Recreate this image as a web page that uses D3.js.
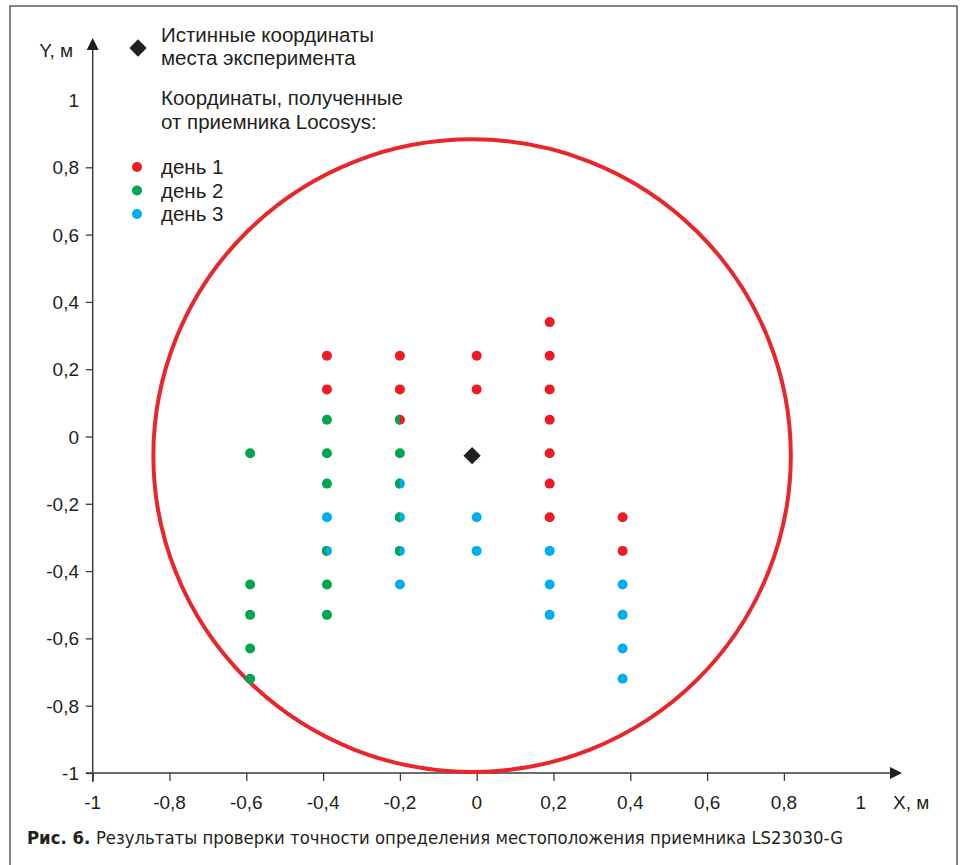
<!DOCTYPE html>
<html>
<head>
<meta charset="utf-8">
<script src="https://cdnjs.cloudflare.com/ajax/libs/d3/7.8.5/d3.min.js"></script>
<style>
  body { margin: 0; background: #fff; }
  svg { display: block; }
  .lbl { font-family: "Liberation Sans", Arial, sans-serif; font-size: 19px; fill: #231f20; }
  .leg { font-family: "Liberation Sans", Arial, sans-serif; font-size: 20.5px; fill: #231f20; }
  .cap { font-family: "Liberation Sans Narrow", "DejaVu Sans Condensed", "Roboto Condensed", sans-serif; font-size: 18px; fill: #231f20; }
</style>
</head>
<body>
<div class="pointsGraph"></div>
<script>
// tick values
var tickVals = [-1, -0.8, -0.6, -0.4, -0.2, 0, 0.2, 0.4, 0.6, 0.8];
var tickLabels = [-1, -0.8, -0.6, -0.4, -0.2, 0, 0.2, 0.4, 0.6, 0.8, 1];

// true position and the error circle (semi-axes in metres on each axis)
var truePoint = [-0.012, -0.057];
var circleRx = 0.83;
var circleRy = 0.94;

// receiver readings, [x, y] in metres
var day1 = [[-0.39, 0.24], [-0.39, 0.14], [-0.2, 0.24], [-0.2, 0.14], [-0.2, 0.05],
            [0, 0.24], [0, 0.14], [0.19, 0.34], [0.19, 0.24], [0.19, 0.14],
            [0.19, 0.05], [0.19, -0.05], [0.19, -0.14], [0.19, -0.24],
            [0.38, -0.24], [0.38, -0.34]];
var day2 = [[-0.59, -0.05], [-0.59, -0.44], [-0.59, -0.53], [-0.59, -0.63], [-0.59, -0.72],
            [-0.39, 0.05], [-0.39, -0.05], [-0.39, -0.14], [-0.39, -0.34], [-0.39, -0.44], [-0.39, -0.53],
            [-0.2, 0.05], [-0.2, -0.05], [-0.2, -0.14], [-0.2, -0.24], [-0.2, -0.34]];
var day3 = [[-0.39, -0.24], [-0.39, -0.34], [-0.2, -0.14], [-0.2, -0.24], [-0.2, -0.34], [-0.2, -0.44],
            [0, -0.24], [0, -0.34], [0.19, -0.34], [0.19, -0.44], [0.19, -0.53],
            [0.38, -0.44], [0.38, -0.53], [0.38, -0.63], [0.38, -0.72]];

var legendDays = ['день 1', 'день 2', 'день 3'];
var dayColors = ['#ed1c24', '#00a651', '#00aeef'];

var width = 960;
var height = 865;

var x = d3.scaleLinear().domain([-1, 1]).range([92.7, 860.7]);
var y = d3.scaleLinear().domain([-1, 1]).range([773, 100]);

var svg = d3.select('.pointsGraph').append('svg')
            .attr('width', width)
            .attr('height', height);

// frame
svg.append('rect').attr('x', 10).attr('y', 6).attr('width', 947).attr('height', 870)
   .attr('fill', 'none').attr('stroke', '#444').attr('stroke-width', 1.3);

var axisColor = '#3d3d3d';

// x axis
var xAxis = d3.axisBottom(x).tickValues(tickVals).tickSize(8).tickFormat('');
var gx = svg.append('g').attr('transform', 'translate(0,' + y(-1) + ')').call(xAxis);
gx.select('.domain').remove();
gx.selectAll('line').attr('stroke', axisColor).attr('stroke-width', 1.3);
svg.append('line').attr('x1', 86).attr('x2', 892).attr('y1', y(-1)).attr('y2', y(-1))
   .attr('stroke', axisColor).attr('stroke-width', 1.5);
svg.append('path')
   .attr('d', 'M' + 902 + ',' + y(-1) + 'L890,' + (y(-1) - 6) + 'L890,' + (y(-1) + 6) + 'Z')
   .attr('fill', '#231f20');

// y axis
var yAxis = d3.axisLeft(y).tickValues(tickVals).tickSize(7).tickFormat('');
var gy = svg.append('g').attr('transform', 'translate(' + x(-1) + ',0)').call(yAxis);
gy.select('.domain').remove();
gy.selectAll('line').attr('stroke', axisColor).attr('stroke-width', 1.3);
svg.append('line').attr('x1', x(-1)).attr('x2', x(-1)).attr('y1', 48).attr('y2', 782)
   .attr('stroke', axisColor).attr('stroke-width', 1.5);
svg.append('path')
   .attr('d', 'M' + x(-1) + ',38L' + (x(-1) - 6) + ',50L' + (x(-1) + 6) + ',50Z')
   .attr('fill', '#231f20');

var fmt = function(v) { return String(v).replace('.', ','); };

svg.selectAll('.xlab').data(tickLabels).enter().append('text')
   .attr('class', 'lbl')
   .attr('x', function(d) { return x(d); })
   .attr('y', 809)
   .attr('text-anchor', 'middle')
   .text(fmt);
svg.selectAll('.ylab').data(tickLabels).enter().append('text')
   .attr('class', 'lbl')
   .attr('x', 79)
   .attr('y', function(d) { return y(d) + 7; })
   .attr('text-anchor', 'end')
   .text(fmt);

svg.append('text').attr('class', 'lbl').attr('x', 73).attr('y', 57).attr('text-anchor', 'end').text('Y, м');
svg.append('text').attr('class', 'lbl').attr('x', 893).attr('y', 809).text('X, м');

// error circle
svg.append('ellipse')
   .attr('cx', x(truePoint[0])).attr('cy', y(truePoint[1]))
   .attr('rx', x(circleRx) - x(0)).attr('ry', y(0) - y(circleRy))
   .attr('fill', 'none').attr('stroke', '#e8262c').attr('stroke-width', 4);

// points
var r = 5;
function drawDots(data, color) {
  svg.append('g').selectAll('circle').data(data).enter().append('circle')
     .attr('cx', function(d) { return x(d[0]); })
     .attr('cy', function(d) { return y(d[1]); })
     .attr('r', r)
     .attr('fill', color);
}
drawDots(day1, dayColors[0]);
drawDots(day3, dayColors[2]);

// day 2: where it shares a spot with another day, only its left half shows
var others = day1.concat(day3);
function shared(d) {
  return others.some(function(o) { return o[0] === d[0] && o[1] === d[1]; });
}
svg.append('g').selectAll('path').data(day2).enter().append('path')
   .attr('d', function(d) {
     var cx = x(d[0]), cy = y(d[1]);
     if (shared(d)) {
       return 'M' + cx + ',' + (cy - r) + 'A' + r + ',' + r + ' 0 0,0 ' + cx + ',' + (cy + r) + 'Z';
     }
     return 'M' + (cx - r) + ',' + cy + 'A' + r + ',' + r + ' 0 1,0 ' + (cx + r) + ',' + cy +
            'A' + r + ',' + r + ' 0 1,0 ' + (cx - r) + ',' + cy + 'Z';
   })
   .attr('fill', dayColors[1]);

// true position
var diamond = d3.symbol().type(d3.symbolDiamond2).size(190);
svg.append('path').attr('d', diamond)
   .attr('transform', 'translate(' + x(truePoint[0]) + ',' + y(truePoint[1]) + ')')
   .attr('fill', '#231f20');

// legend
svg.append('path').attr('d', diamond).attr('transform', 'translate(138,48)').attr('fill', '#231f20');
var legLines = [['Истинные координаты', 42], ['места эксперимента', 65],
                ['Координаты, полученные', 105], ['от приемника Locosys:', 129]];
legLines.forEach(function(l) {
  svg.append('text').attr('class', 'leg').attr('x', 161).attr('y', l[1]).text(l[0]);
});
legendDays.forEach(function(t, i) {
  var ly = 167 + i * 23.5;
  svg.append('circle').attr('cx', 137).attr('cy', ly).attr('r', r).attr('fill', dayColors[i]);
  svg.append('text').attr('class', 'leg').attr('x', 161).attr('y', ly + 7).text(t);
});

// caption
var cap = svg.append('text').attr('class', 'cap').attr('x', 27).attr('y', 844)
   .attr('textLength', 816).attr('lengthAdjust', 'spacingAndGlyphs');
cap.append('tspan').attr('font-weight', 'bold').text('Рис. 6. ');
cap.append('tspan').text('Результаты проверки точности определения местоположения приемника LS23030-G');
</script>
</body>
</html>
